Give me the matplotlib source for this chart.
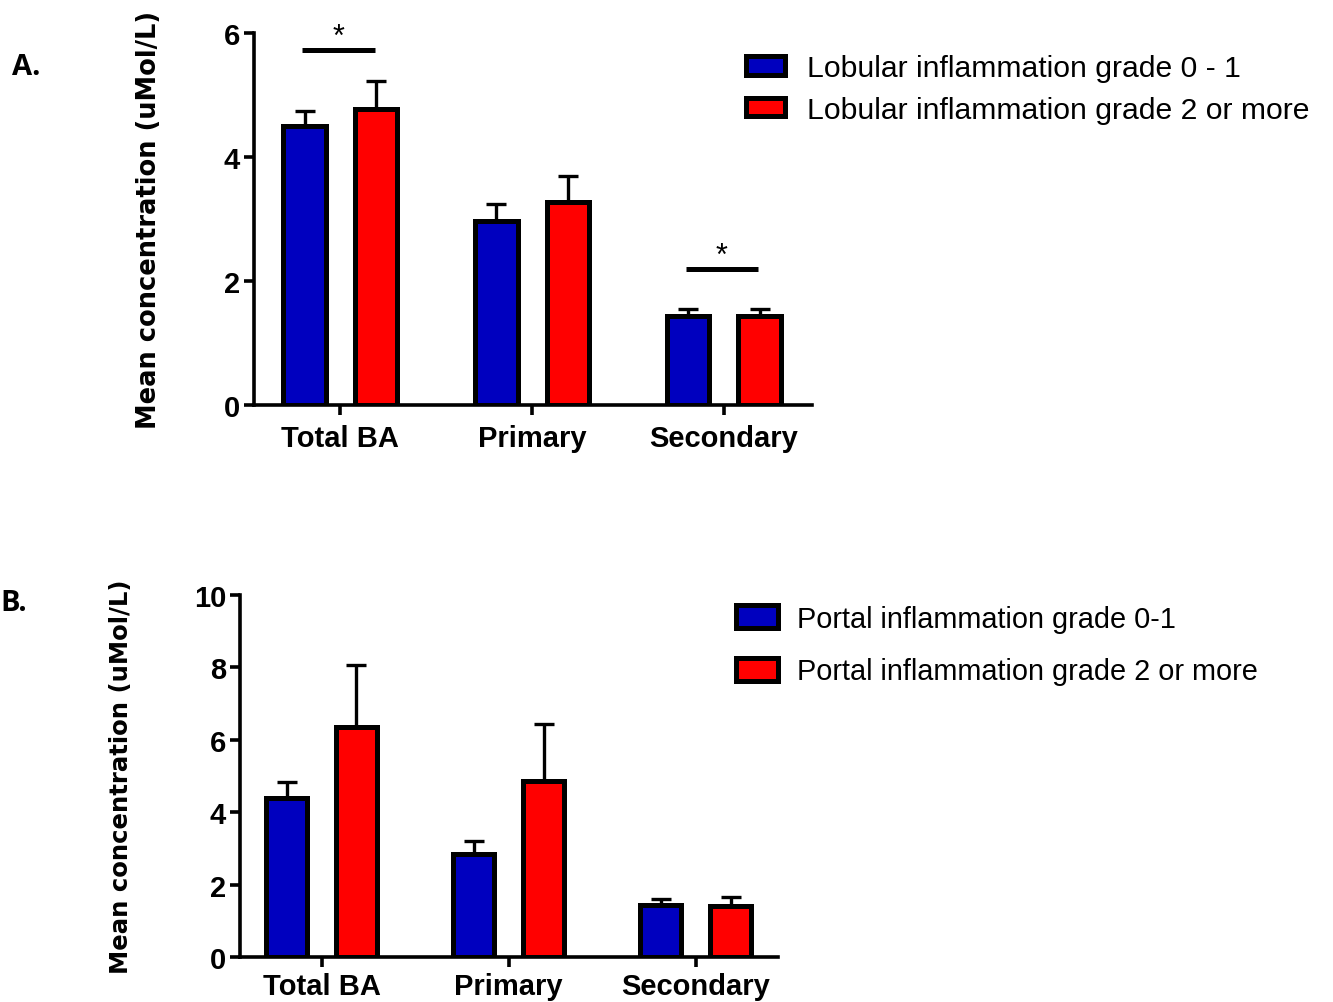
import matplotlib.pyplot as plt
import numpy as np

# ---------------------------------
# Bile acid concentrations (uMol/L)
# ---------------------------------
groups = ["Total BA", "Primary", "Secondary"]

lob_labels = ["Lobular inflammation grade 0 - 1", "Lobular inflammation grade 2 or more"]
lob_low = [4.50, 2.97, 1.44]
lob_low_sem = [0.25, 0.27, 0.11]
lob_high = [4.77, 3.27, 1.43]
lob_high_sem = [0.46, 0.42, 0.12]

por_labels = ["Portal inflammation grade 0-1", "Portal inflammation grade 2 or more"]
por_low = [4.39, 2.85, 1.44]
por_low_sem = [0.44, 0.34, 0.17]
por_high = [6.35, 4.87, 1.40]
por_high_sem = [1.72, 1.56, 0.26]

# significance markers for panel A (group index, bar height)
sig_groups = [0, 2]
sig_heights = [5.73, 2.2]

BLUE = "#0000BF"
RED = "#FF0000"
TICK_FONT = "Liberation Sans"

fig = plt.figure(figsize=(13.33, 10.03), dpi=100)
ax_a = fig.add_axes([0.1906, 0.5952, 0.4186, 0.3709])
ax_b = fig.add_axes([0.1800, 0.0449, 0.4036, 0.3609])

width = 0.222
offset = 0.187


def draw_panel(ax, low, low_err, high, high_err, ymax, ystep, label_size, xpad):
    x = np.arange(len(groups))
    for vals, err, sign, col in [(low, low_err, -1, BLUE), (high, high_err, 1, RED)]:
        xs = x + sign * offset
        ax.errorbar(xs, vals, yerr=[np.zeros(len(vals)), err], fmt="none",
                    ecolor="black", elinewidth=2.4, capsize=7, capthick=2.4, zorder=2)
        ax.bar(xs, vals, width, color=col, edgecolor="black", linewidth=3.6, zorder=3)
    ax.set_xticks(x)
    ax.set_xticklabels(groups, fontfamily=TICK_FONT, fontweight="bold", fontsize=21)
    ticks = np.arange(0, ymax + 0.01, ystep)
    ax.set_yticks(ticks)
    ax.set_yticklabels([f"{v:g}" for v in ticks],
                       fontfamily=TICK_FONT, fontweight="bold", fontsize=21)
    ax.set_ylim(0, ymax)
    for side in ["top", "right"]:
        ax.spines[side].set_visible(False)
    for side in ["left", "bottom"]:
        ax.spines[side].set_linewidth(2.6)
    ax.tick_params(axis="both", length=7, width=2.6, pad=3)
    ax.tick_params(axis="x", pad=xpad)
    ax.set_ylabel("Mean concentration (uMol/L)", fontsize=label_size, fontweight="bold",
                  fontfamily="DejaVu Sans")


# -----------------------------------
# Panel A: lobular inflammation
# -----------------------------------
draw_panel(ax_a, lob_low, lob_low_sem, lob_high, lob_high_sem, 6, 2, 18.5, 7)
ax_a.set_xlim(-0.45, 2.46)
ax_a.yaxis.set_label_coords(-0.165, 0.5)
for g, h in zip(sig_groups, sig_heights):
    ax_a.plot([g - 0.2, g + 0.18], [h, h], color="black", lw=3.6,
              solid_capstyle="butt", clip_on=False)
    ax_a.text(g - 0.01, h - 0.04, "*", ha="center", va="bottom", fontsize=22,
              fontfamily="Liberation Sans", clip_on=False)

# -----------------------------------
# Panel B: portal inflammation
# -----------------------------------
draw_panel(ax_b, por_low, por_low_sem, por_high, por_high_sem, 10, 2, 17.6, 3.5)
ax_b.set_xlim(-0.436, 2.44)
ax_b.yaxis.set_label_coords(-0.199, 0.5)

# -----------------------------------
# Legends
# -----------------------------------
def legend_handles():
    return [plt.Rectangle((0, 0), 1, 1, facecolor=c, edgecolor="black", linewidth=3.6)
            for c in (BLUE, RED)]

fig.legend(legend_handles(), lob_labels, loc="upper left",
           bbox_to_anchor=(0.539, 0.972), frameon=False,
           prop={"family": "Liberation Sans", "size": 21.7},
           handlelength=1.3, handleheight=0.55, handletextpad=0.75, labelspacing=0.45)
fig.legend(legend_handles(), por_labels, loc="upper left",
           bbox_to_anchor=(0.533, 0.422), frameon=False,
           prop={"family": "Liberation Sans", "size": 20.8},
           handlelength=1.45, handleheight=0.85, handletextpad=0.65, labelspacing=0.85)

# panel letters
fig.text(0.009, 0.933, "A.", fontsize=21, fontweight="bold", fontfamily="Open Sans",
         va="center", ha="left")
fig.text(0.0, 0.398, "B.", fontsize=21, fontweight="bold", fontfamily="Open Sans",
         va="center", ha="left")

fig.savefig("out.png", dpi=100)
